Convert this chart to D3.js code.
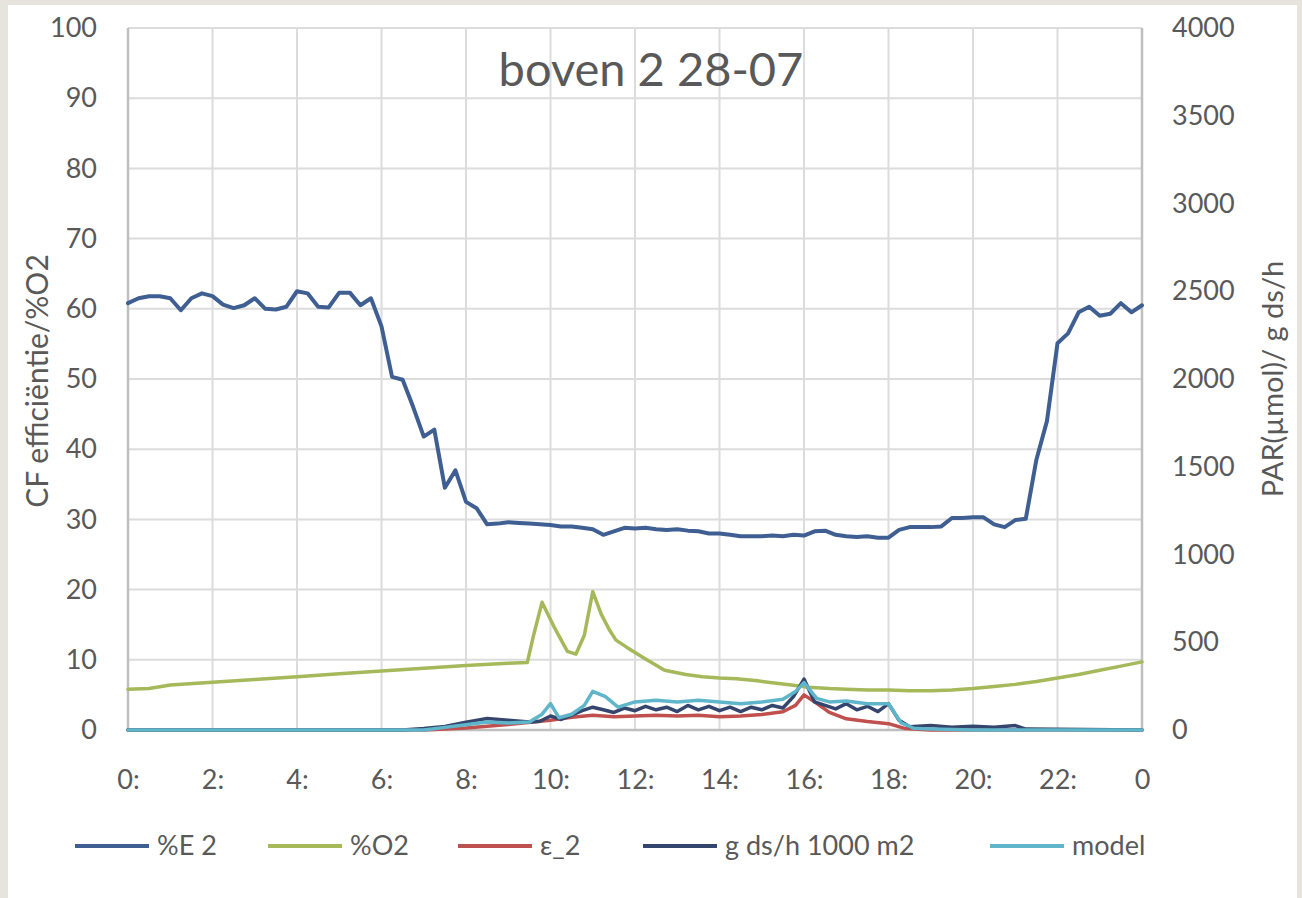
<!DOCTYPE html>
<html>
<head>
<meta charset="utf-8">
<script src="https://cdn.jsdelivr.net/npm/d3@7"></script>
<style>
  html, body { margin: 0; padding: 0; background: #e7e3dd; }
  svg { display: block; }
  text { font-family: Lato, "Open Sans", sans-serif; fill: #595959; }
</style>
</head>
<body>
<svg id="chart" width="1302" height="898"></svg>
<script>
// ---------- data ----------
const chartTitle = "boven 2 28-07";
const leftAxisTitle = "CF efficiëntie/%O2";
const rightAxisTitle = "PAR(µmol)/ g ds/h";

const xTickHours  = [0, 2, 4, 6, 8, 10, 12, 14, 16, 18, 20, 22, 24];
const xTickLabels = ["0:", "2:", "4:", "6:", "8:", "10:", "12:", "14:", "16:", "18:", "20:", "22:", "0"];
const leftTicks  = [0, 10, 20, 30, 40, 50, 60, 70, 80, 90, 100];
const rightTicks = [0, 500, 1000, 1500, 2000, 2500, 3000, 3500, 4000];

const seriesNames = ["%E 2", "%O2", "ε_2", "g ds/h 1000 m2", "model"];

// %E 2 (left axis)
const e2Hours = [0,0.25,0.5,0.75,1,1.25,1.5,1.75,2,2.25,2.5,2.75,3,3.25,3.5,3.75,4,4.25,4.5,4.75,5,5.25,5.5,5.75,
  6,6.25,6.5,6.75,7,7.25,7.5,7.75,8,8.25,8.5,8.75,9,9.25,9.5,9.75,10,10.25,10.5,10.75,11,11.25,11.5,11.75,
  12,12.25,12.5,12.75,13,13.25,13.5,13.75,14,14.25,14.5,14.75,15,15.25,15.5,15.75,16,16.25,16.5,16.75,
  17,17.25,17.5,17.75,18,18.25,18.5,18.75,19,19.25,19.5,19.75,20,20.25,20.5,20.75,21,21.25,21.5,21.75,
  22,22.25,22.5,22.75,23,23.25,23.5,23.75,24];
const e2Values = [60.8,61.5,61.8,61.8,61.5,59.8,61.5,62.2,61.8,60.6,60.1,60.5,61.5,60.0,59.9,60.3,62.5,62.2,60.3,60.2,62.3,62.3,60.5,61.5,
  57.5,50.3,49.9,46.0,41.8,42.8,34.5,37.0,32.5,31.6,29.3,29.4,29.6,29.5,29.4,29.3,29.2,29.0,29.0,28.8,28.6,27.8,28.3,28.8,
  28.7,28.8,28.6,28.5,28.6,28.4,28.3,28.0,28.0,27.8,27.6,27.6,27.6,27.7,27.6,27.8,27.7,28.3,28.4,27.8,
  27.6,27.5,27.6,27.4,27.4,28.5,28.9,28.9,28.9,29.0,30.2,30.2,30.3,30.3,29.3,28.9,29.9,30.1,38.5,44.0,
  55.1,56.5,59.5,60.3,59.0,59.3,60.8,59.5,60.5];

// %O2 (left axis)
const o2Hours = [0,0.5,1,2,3,4,5,6,7,8,9,9.45,9.6,9.8,10.1,10.4,10.6,10.8,11.0,11.2,11.4,11.55,11.8,12.2,12.7,13.2,13.6,14.0,14.4,14.9,15.3,15.7,16.1,16.6,17.0,17.5,18.0,18.5,19.0,19.5,20.0,20.5,21.0,21.5,22.0,22.5,23.0,23.5,24.0];
const o2Values = [5.8,5.9,6.4,6.8,7.2,7.6,8.0,8.4,8.8,9.2,9.5,9.6,13.5,18.2,14.5,11.2,10.8,13.5,19.7,16.5,14.2,12.8,11.8,10.3,8.5,7.9,7.6,7.4,7.3,7.0,6.7,6.4,6.1,5.9,5.8,5.7,5.7,5.6,5.6,5.7,5.9,6.2,6.5,6.9,7.4,7.9,8.5,9.1,9.7];

// ε_2 (left axis)
const epsHours  = [0,7,8,9,10,10.5,11,11.5,12,12.5,13,13.5,14,14.5,15,15.5,15.8,16,16.3,16.6,17,17.5,18,18.4,19,24];
const epsValues = [0,0,0.3,0.8,1.4,1.8,2.1,1.9,2.0,2.1,2.0,2.1,1.9,2.0,2.2,2.6,3.5,5.0,3.8,2.5,1.6,1.2,0.9,0.2,0,0];

// g ds/h 1000 m2 (right axis)
const gHours = [0,6.5,7,7.5,8,8.5,9,9.5,9.75,10,10.25,10.5,10.75,11,11.25,11.5,11.75,12,12.25,12.5,12.75,13,13.25,13.5,13.75,
  14,14.25,14.5,14.75,15,15.25,15.5,15.75,16,16.25,16.5,16.75,17,17.25,17.5,17.75,18,18.25,18.5,19,19.5,20,20.5,21,21.25,24];
const gValues = [0,0,8,20,45,65,55,45,50,80,60,85,110,130,115,100,125,110,135,115,130,105,140,115,135,
  110,130,105,130,115,140,125,190,290,160,140,120,150,115,135,105,150,55,18,25,15,22,15,25,5,0];

// model (right axis)
const modelHours  = [0,7,7.5,8,8.5,9,9.5,9.8,10,10.2,10.5,10.8,11,11.3,11.6,12,12.5,13,13.5,14,14.5,15,15.5,15.8,16,16.3,16.6,17,17.5,18,18.3,18.6,19,20,24];
const modelValues = [0,0,15,30,45,40,45,90,150,70,90,140,220,190,130,160,170,160,170,160,150,160,175,220,270,180,160,165,150,150,40,10,5,0,0];

// ---------- chart ----------
const svg = d3.select("#chart");
const plot = { left: 128, right: 1142, top: 28, bottom: 730 };

svg.append("rect").attr("x", 8).attr("y", 5).attr("width", 1289).attr("height", 893).attr("fill", "#ffffff");

const x  = d3.scaleLinear().domain([0, 24]).range([plot.left, plot.right]);
const yL = d3.scaleLinear().domain([0, 100]).range([plot.bottom, plot.top]);
const yR = d3.scaleLinear().domain([0, 4000]).range([plot.bottom, plot.top]);

// grid
const grid = svg.append("g");
grid.selectAll("line.h").data(leftTicks).join("line")
  .attr("x1", plot.left).attr("x2", plot.right)
  .attr("y1", d => yL(d)).attr("y2", d => yL(d))
  .attr("stroke", "#dcdcdc").attr("stroke-width", 2);
grid.selectAll("line.v").data(xTickHours.slice(1, -1)).join("line")
  .attr("x1", d => x(d)).attr("x2", d => x(d))
  .attr("y1", plot.top).attr("y2", plot.bottom)
  .attr("stroke", "#dcdcdc").attr("stroke-width", 2);
// axis lines
svg.append("line").attr("x1", plot.left).attr("x2", plot.left).attr("y1", plot.top).attr("y2", plot.bottom)
  .attr("stroke", "#bfbfbf").attr("stroke-width", 2.5);
svg.append("line").attr("x1", plot.right).attr("x2", plot.right).attr("y1", plot.top).attr("y2", plot.bottom)
  .attr("stroke", "#bfbfbf").attr("stroke-width", 2.5);
svg.append("line").attr("x1", plot.left).attr("x2", plot.right).attr("y1", plot.bottom).attr("y2", plot.bottom)
  .attr("stroke", "#bfbfbf").attr("stroke-width", 2.5);

// axes
const axL = svg.append("g").attr("transform", `translate(${plot.left},0)`)
  .call(d3.axisLeft(yL).tickValues(leftTicks).tickSize(0).tickPadding(31).tickFormat(d3.format("d")));
const axR = svg.append("g").attr("transform", `translate(${plot.right},0)`)
  .call(d3.axisRight(yR).tickValues(rightTicks).tickSize(0).tickPadding(30).tickFormat(d3.format("d")));
const axB = svg.append("g").attr("transform", `translate(0,${plot.bottom})`)
  .call(d3.axisBottom(x).tickValues(xTickHours).tickSize(0).tickPadding(40)
    .tickFormat((d, i) => xTickLabels[i]));
[axL, axR, axB].forEach(a => {
  a.select(".domain").remove();
  a.selectAll("text").attr("font-size", 27).attr("fill", "#595959")
    .style("font-family", "Lato, 'Open Sans', sans-serif");
});

// series
const colors = ["#3f5f93", "#a5b95b", "#c0504d", "#35466e", "#5fb6cb"];
const series = [
  { hours: e2Hours,    values: e2Values,    y: yL, color: colors[0], w: 4 },
  { hours: o2Hours,    values: o2Values,    y: yL, color: colors[1], w: 3.5 },
  { hours: epsHours,   values: epsValues,   y: yL, color: colors[2], w: 3.5 },
  { hours: gHours,     values: gValues,     y: yR, color: colors[3], w: 3.5 },
  { hours: modelHours, values: modelValues, y: yR, color: colors[4], w: 3.5 }
];
series.forEach(s => {
  const n = Math.min(s.hours.length, s.values.length);
  const pts = d3.range(n).map(i => [s.hours[i], s.values[i]]);
  const line = d3.line().x(d => x(d[0])).y(d => s.y(d[1]));
  svg.append("path").datum(pts).attr("d", line)
    .attr("fill", "none").attr("stroke", s.color).attr("stroke-width", s.w)
    .attr("stroke-linejoin", "round").attr("stroke-linecap", "round");
});

// title
svg.append("text").attr("x", 651).attr("y", 86).attr("text-anchor", "middle")
  .attr("font-size", 47).text(chartTitle);

// axis titles
svg.append("text").attr("transform", "translate(37,381) rotate(-90)").attr("dy", "0.35em")
  .attr("text-anchor", "middle").attr("font-size", 30).text(leftAxisTitle);
svg.append("text").attr("transform", "translate(1273,379) rotate(-90)").attr("dy", "0.35em")
  .attr("text-anchor", "middle").attr("font-size", 29).text(rightAxisTitle);

// legend
const legendX = [75, 268, 458, 643, 990];
const lg = svg.append("g").attr("transform", "translate(0,846)");
seriesNames.forEach((name, i) => {
  lg.append("line").attr("x1", legendX[i]).attr("x2", legendX[i] + 74).attr("y1", 0).attr("y2", 0)
    .attr("stroke", colors[i]).attr("stroke-width", 4);
  lg.append("text").attr("x", legendX[i] + 82).attr("y", 0).attr("dy", "0.35em")
    .attr("font-size", 27).text(name);
});
</script>
</body>
</html>
